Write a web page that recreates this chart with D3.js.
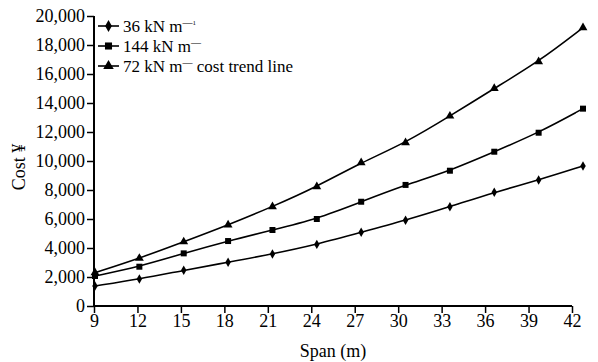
<!DOCTYPE html>
<html>
<head>
<meta charset="utf-8">
<script src="https://cdn.jsdelivr.net/npm/d3@7"></script>
<style>
  body { margin: 0; background: #fff; }
  text { font-family: "Liberation Serif", "Times New Roman", serif; fill: #000; }
</style>
</head>
<body>
<script>
// spans (m) and costs
const spans = [9, 12, 15, 18, 21, 24, 27, 30, 33, 36, 39, 42];
const cost36 = [1380, 1860, 2460, 3020, 3590, 4250, 5080, 5910, 6850, 7840, 8690, 9660];
const cost144 = [2070, 2710, 3630, 4480, 5240, 6000, 7190, 8350, 9330, 10640, 11950, 13610];
const cost72 = [2300, 3290, 4430, 5590, 6850, 8230, 9890, 11260, 13100, 15010, 16850, 19200];
const yTicks = [0, 2000, 4000, 6000, 8000, 10000, 12000, 14000, 16000, 18000, 20000];

const series = [
  { name: "36 kN m", sup: "—", sup2: "1", values: cost36, symbol: d3.symbolDiamond, size: 26 },
  { name: "144 kN m", sup: "—", sup2: "", values: cost144, symbol: d3.symbolSquare, size: 36 },
  { name: "72 kN m", sup: "—", sup2: "", tail: " cost trend line", values: cost72, symbol: d3.symbolTriangle, size: 34 }
];

let width = 598;
let height = 362;

let svg = d3.select("body").append("svg")
  .attr("width", width)
  .attr("height", height);

// axis scale and the (slightly wider) scale the markers were plotted with
let x = d3.scaleLinear().domain([9, 42]).range([94, 572]);
let xData = d3.scaleLinear().domain([9, 42]).range([95, 583]);
let y = d3.scaleLinear().domain([0, 20000]).range([306, 16]);

// y axis
let yAxis = svg.append("g")
  .attr("transform", "translate(" + x(9) + ",0)")
  .call(d3.axisLeft(y).tickValues(yTicks).tickSize(7).tickPadding(2)
    .tickFormat(d3.format(",")));
yAxis.select(".domain").attr("stroke-width", 2).attr("d", "M0," + y(20000) + "V" + y(0));
yAxis.selectAll(".tick line").attr("stroke-width", 1.5);
yAxis.selectAll("text").style("font-size", "18px").style("font-family", "Liberation Serif");

// x axis
let xAxis = svg.append("g")
  .attr("transform", "translate(0," + y(0) + ")")
  .call(d3.axisBottom(x).tickValues(spans).tickSize(7).tickPadding(1));
xAxis.select(".domain").attr("stroke-width", 2).attr("d", "M" + x(9) + ",0H" + x(42));
xAxis.selectAll(".tick line").attr("stroke-width", 1.5);
xAxis.selectAll("text").style("font-size", "18px").style("font-family", "Liberation Serif");

// axis titles
svg.append("text")
  .attr("x", 333).attr("y", 357)
  .attr("text-anchor", "middle")
  .style("font-size", "18px")
  .text("Span (m)");

svg.append("text")
  .attr("transform", "translate(25,167) rotate(-90)")
  .attr("text-anchor", "middle")
  .style("font-size", "18px")
  .text("Cost ¥");

// trend lines + markers
let line = d3.line()
  .x((d, i) => xData(spans[i]))
  .y(d => y(d))
  .curve(d3.curveBasis);

series.forEach(s => {
  svg.append("path")
    .attr("d", line(s.values))
    .attr("fill", "none")
    .attr("stroke", "#000")
    .attr("stroke-width", 1.6);

  svg.append("g").selectAll("path")
    .data(s.values)
    .enter().append("path")
    .attr("transform", (d, i) => "translate(" + xData(spans[i]) + "," + y(d) + ")")
    .attr("d", d3.symbol().type(s.symbol).size(s.size))
    .attr("fill", "#000");
});

// legend
let legend = svg.append("g");
series.forEach((s, i) => {
  let ly = 26 + i * 20;
  let g = legend.append("g").attr("transform", "translate(0," + ly + ")");
  g.append("line")
    .attr("x1", 98).attr("x2", 119)
    .attr("stroke", "#000").attr("stroke-width", 1.6);
  g.append("path")
    .attr("transform", "translate(108.5,0)")
    .attr("d", d3.symbol().type(s.symbol).size(s.size + 14))
    .attr("fill", "#000");
  let t = g.append("text")
    .attr("x", 123).attr("y", 6)
    .style("font-size", "17px");
  t.append("tspan").text(s.name);
  t.append("tspan").attr("dy", -6).style("font-size", "10px").text(s.sup);
  if (s.sup2) t.append("tspan").attr("dy", -1).style("font-size", "7px").text(s.sup2);
  if (s.tail) t.append("tspan").attr("dy", s.sup2 ? 7 : 6).text(s.tail);
});
</script>
</body>
</html>
